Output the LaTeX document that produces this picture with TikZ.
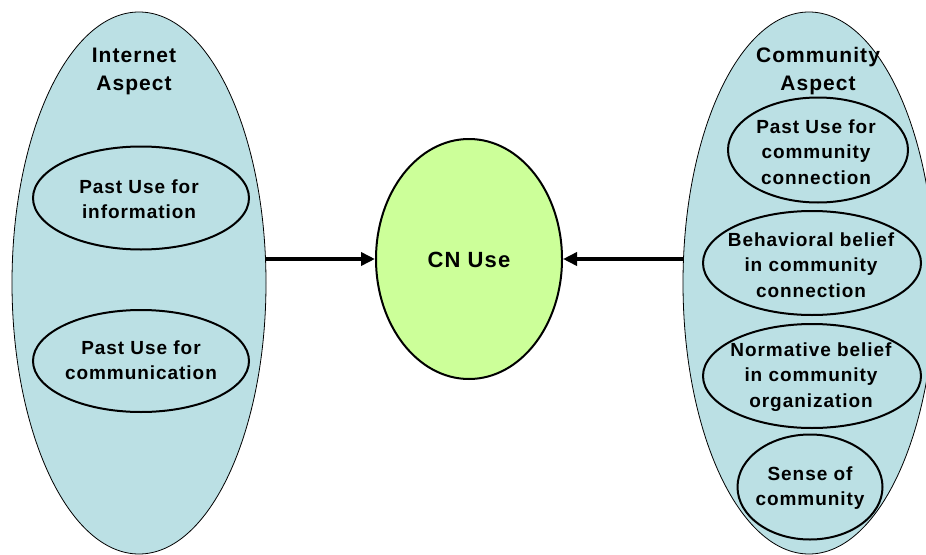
\documentclass[tikz,border=0pt]{standalone}
\usepackage{fontspec}
\setmainfont{Liberation Sans}[LetterSpace=5]
\usetikzlibrary{shapes.geometric,arrows.meta}
\definecolor{aspectblue}{RGB}{187,224,228}
\definecolor{cngreen}{RGB}{204,255,153}
\tikzset{
  bigell/.style={ellipse, draw=black, line width=0.8pt, fill=aspectblue, inner sep=0pt},
  innerell/.style={ellipse, draw=black, line width=2pt, fill=aspectblue, inner sep=0pt},
  cnell/.style={ellipse, draw=black, line width=2pt, fill=cngreen, inner sep=0pt},
  ttl/.style={align=center, font=\bfseries\fontsize{21}{28}\selectfont, inner sep=0pt},
  lbl/.style={align=center, font=\bfseries\fontsize{19}{25.5}\selectfont, inner sep=0pt},
  cnlbl/.style={align=center, font=\bfseries\fontsize{22}{26}\selectfont, inner sep=0pt},
  conn/.style={line width=3.5pt, -{Triangle[length=14pt,width=13pt]}}
}
\begin{document}
\begin{tikzpicture}[x=1pt,y=-1pt]
\useasboundingbox (0,0) rectangle (926,554);
\clip (0,0) rectangle (926,554);
% big ellipses
\node[bigell, minimum width=254pt, minimum height=542pt] (inet) at (139,283) {};
\node[bigell, minimum width=252pt, minimum height=542pt] (comm) at (809,283) {};
\node[ttl] (inettitle) at (134,71) {Internet\\Aspect};
\node[ttl] (commtitle) at (818,71) {Community\\Aspect};
% left inner
\node[innerell, minimum width=216pt, minimum height=103pt] (info) at (141,198) {};
\node[lbl] (infot) at (139,199) {Past Use for\\information};
\node[innerell, minimum width=216pt, minimum height=102pt] (commu) at (141,361) {};
\node[lbl] (commut) at (141,360) {Past Use for\\communication};
% right inner
\node[innerell, minimum width=180pt, minimum height=105pt] (pucc) at (818,150) {};
\node[lbl] (pucct) at (816,152) {Past Use for\\community\\connection};
\node[innerell, minimum width=218pt, minimum height=104pt] (beh) at (812,263) {};
\node[lbl] (beht) at (811,265) {Behavioral belief\\in community\\connection};
\node[innerell, minimum width=218pt, minimum height=104pt] (norm) at (812,376) {};
\node[lbl] (normt) at (811,377) {Normative belief\\in community\\organization};
\node[innerell, minimum width=145pt, minimum height=105pt] (sense) at (810,487) {};
\node[lbl] (senset) at (810,488) {Sense of\\community};
% center
\node[cnell, minimum width=186pt, minimum height=240pt] (cn) at (469,259) {};
\node[cnlbl] (cnt) at (469,260) {CN Use};
% connectors
\draw[conn] (inet.east |- cn.west) -- (cn.west);
\draw[conn] (comm.west |- cn.east) -- (cn.east);
\end{tikzpicture}
\end{document}
